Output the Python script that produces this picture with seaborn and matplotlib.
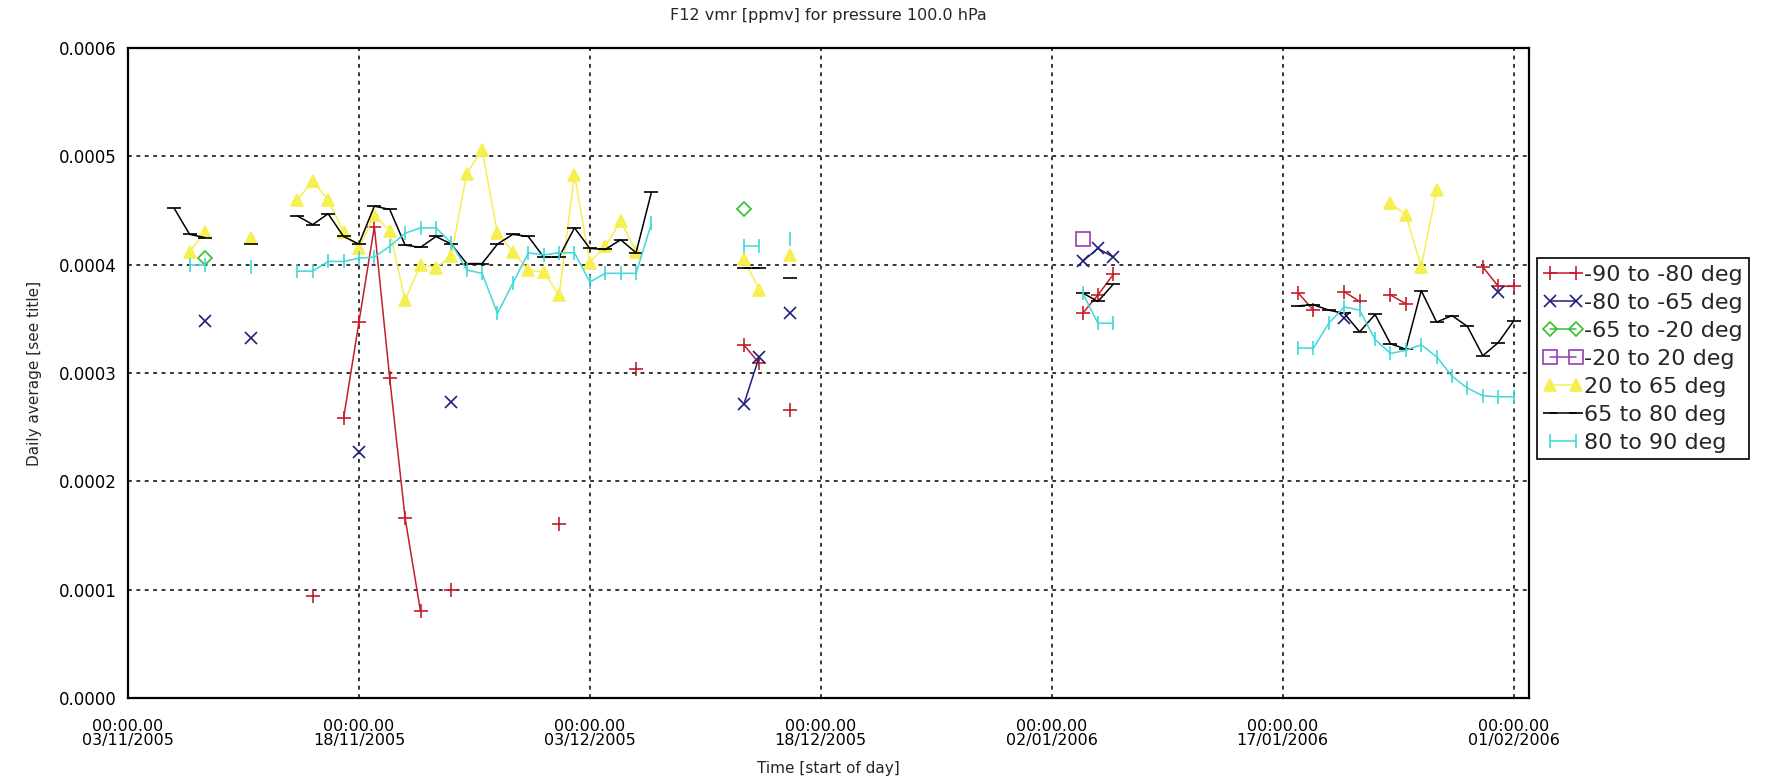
import numpy as np
import pandas as pd
import matplotlib
matplotlib.use("Agg")
import matplotlib.pyplot as plt
from matplotlib.lines import Line2D
import seaborn as sns

# days counted from 03/11/2005, values in units of 1e-4 ppmv
start = pd.Timestamp("2005-11-03")
tick_days = [0, 15, 30, 45, 60, 75, 90]
yticks = [0.0, 0.0001, 0.0002, 0.0003, 0.0004, 0.0005, 0.0006]

red_days = [12, 14, 15, 16, 17, 18, 19, 21, 28, 33, 40, 41, 43, 62, 63, 64,
            76, 77, 79, 80, 82, 83, 88, 89, 90]
red_vals = [0.94, 2.58, 3.47, 4.35, 2.95, 1.66, 0.80, 1.00, 1.61, 3.04, 3.26, 3.09,
            2.66, 3.55, 3.72, 3.91, 3.74, 3.58, 3.75, 3.66, 3.72, 3.64, 3.98, 3.80, 3.80]

navy_days = [5, 8, 15, 21, 40, 41, 43, 62, 63, 64, 79, 89]
navy_vals = [3.48, 3.32, 2.27, 2.73, 2.71, 3.15, 3.55, 4.03, 4.15, 4.07, 3.51, 3.75]

green_days = [5, 40]
green_vals = [4.06, 4.51]

purple_days = [62]
purple_vals = [4.24]

yellow_days = [4, 5, 8, 11, 12, 13, 14, 15, 16, 17, 18, 19, 20, 21, 22, 23, 24, 25,
               26, 27, 28, 29, 30, 31, 32, 33, 40, 41, 43, 82, 83, 84, 85]
yellow_vals = [4.12, 4.30, 4.25, 4.60, 4.77, 4.60, 4.30, 4.15, 4.46, 4.31, 3.67, 4.00,
               3.97, 4.08, 4.84, 5.06, 4.29, 4.12, 3.95, 3.93, 3.72, 4.83, 4.02, 4.17,
               4.40, 4.12, 4.05, 3.77, 4.09, 4.57, 4.46, 3.98, 4.69]

black_days = [3, 4, 5, 8, 11, 12, 13, 14, 15, 16, 17, 18, 19, 20, 21, 22, 23, 24, 25,
              26, 27, 28, 29, 30, 31, 32, 33, 34, 40, 41, 43, 62, 63, 64, 76, 77, 78,
              79, 80, 81, 82, 83, 84, 85, 86, 87, 88, 89, 90]
black_vals = [4.52, 4.28, 4.25, 4.19, 4.45, 4.37, 4.47, 4.26, 4.19, 4.54, 4.51, 4.18,
              4.16, 4.26, 4.19, 4.01, 4.01, 4.19, 4.28, 4.26, 4.07, 4.07, 4.34, 4.15,
              4.14, 4.23, 4.11, 4.67, 3.97, 3.97, 3.88, 3.74, 3.66, 3.82, 3.62, 3.63,
              3.58, 3.55, 3.38, 3.54, 3.27, 3.22, 3.76, 3.47, 3.53, 3.43, 3.16, 3.28, 3.48]

cyan_days = [4, 5, 8, 11, 12, 13, 14, 15, 16, 17, 18, 19, 20, 21, 22, 23, 24, 25, 26,
             27, 28, 29, 30, 31, 32, 33, 34, 40, 41, 43, 62, 63, 64, 76, 77, 78, 79,
             80, 81, 82, 83, 84, 85, 86, 87, 88, 89, 90]
cyan_vals = [4.00, 4.00, 3.98, 3.94, 3.94, 4.03, 4.03, 4.06, 4.07, 4.17, 4.29, 4.34,
             4.34, 4.20, 3.95, 3.92, 3.55, 3.83, 4.11, 4.09, 4.11, 4.11, 3.84, 3.92,
             3.92, 3.92, 4.38, 4.17, 4.17, 4.24, 3.74, 3.46, 3.46, 3.23, 3.23, 3.46,
             3.61, 3.58, 3.31, 3.18, 3.21, 3.26, 3.15, 2.97, 2.86, 2.79, 2.78, 2.78]

bands = ["-90 to -80 deg", "-80 to -65 deg", "-65 to -20 deg", "-20 to 20 deg",
         "20 to 65 deg", "65 to 80 deg", "80 to 90 deg"]
all_days = [red_days, navy_days, green_days, purple_days, yellow_days, black_days, cyan_days]
all_vals = [red_vals, navy_vals, green_vals, purple_vals, yellow_vals, black_vals, cyan_vals]

# style per band: colour, marker, size, fill
styles = {
    "-90 to -80 deg": dict(color="#c41e2c", marker="+", ms=10, mfc="none"),
    "-80 to -65 deg": dict(color="#20207a", marker="x", ms=9, mfc="none"),
    "-65 to -20 deg": dict(color="#30c030", marker="D", ms=7, mfc="none"),
    "-20 to 20 deg": dict(color="#9040b0", marker="s", ms=10, mfc="none"),
    "20 to 65 deg": dict(color="#f5ef50", marker="^", ms=9, mfc="#f5ef50"),
    "65 to 80 deg": dict(color="black", marker="_", ms=10, mfc="none"),
    "80 to 90 deg": dict(color="#40d8d8", marker="|", ms=10, mfc="none"),
}

frames = []
for band, d, v in zip(bands, all_days, all_vals):
    df = pd.DataFrame({"band": band, "day": d, "value": np.array(v) * 1e-4})
    # break the line wherever a day is missing
    df["seg"] = (df["day"].diff() > 1).cumsum()
    frames.append(df)
data = pd.concat(frames, ignore_index=True)

sns.set_theme(style="white")
plt.rcParams["font.family"] = ["DejaVu Sans"]

fig = plt.figure(figsize=(17.82, 7.84), dpi=100)
ax = fig.add_axes([128 / 1782, 86 / 784, 1401 / 1782, 650 / 784])

for band in bands:
    st = styles[band]
    sub = data[data["band"] == band]
    sns.lineplot(data=sub, x="day", y="value", units="seg", estimator=None,
                 sort=False, ax=ax, legend=False, color=st["color"],
                 lw=1.1, marker=st["marker"], ms=st["ms"], mec=st["color"],
                 mfc=st["mfc"], mew=1.2)

ax.set_xlim(0, 91)
ax.set_ylim(0, 0.0006)
ax.set_xticks(tick_days)
ax.set_xticklabels(["00:00.00\n" + (start + pd.Timedelta(days=t)).strftime("%d/%m/%Y")
                    for t in tick_days], fontsize=11.5, linespacing=0.95)
ax.set_yticks(yticks)
ax.set_yticklabels([f"{t:.4f}" for t in yticks], fontsize=12)
ax.tick_params(length=0, colors="black")
ax.tick_params(axis="x", pad=15)
ax.tick_params(axis="y", pad=8)
ax.grid(True, color="black", linestyle=(0, (2.5, 3)), linewidth=1.1)
ax.set_axisbelow(True)
for sp in ax.spines.values():
    sp.set_visible(True)
    sp.set_color("black")
    sp.set_linewidth(1.6)

ax.set_title("F12 vmr [ppmv] for pressure 100.0 hPa", fontsize=11.5, pad=20)
ax.set_xlabel("Time [start of day]", fontsize=11, labelpad=9)
ax.set_ylabel("Daily average [see title]", fontsize=11, labelpad=12)

handles = []
for band in bands:
    st = styles[band]
    handles.append(Line2D([0], [0], color=st["color"], lw=1.1, marker=st["marker"],
                          ms=st["ms"], mec=st["color"], mfc=st["mfc"], mew=1.2))
leg = fig.legend(handles, bands, loc="upper left", bbox_to_anchor=(1537 / 1782, 1 - 258 / 784),
                 frameon=True, fancybox=False, edgecolor="black", framealpha=1,
                 fontsize=16, numpoints=2, handlelength=1.75, handletextpad=0.05,
                 borderpad=0.3, labelspacing=0.36, borderaxespad=0)
leg.get_frame().set_linewidth(1.2)

fig.savefig("out.png", dpi=100, facecolor="white")
